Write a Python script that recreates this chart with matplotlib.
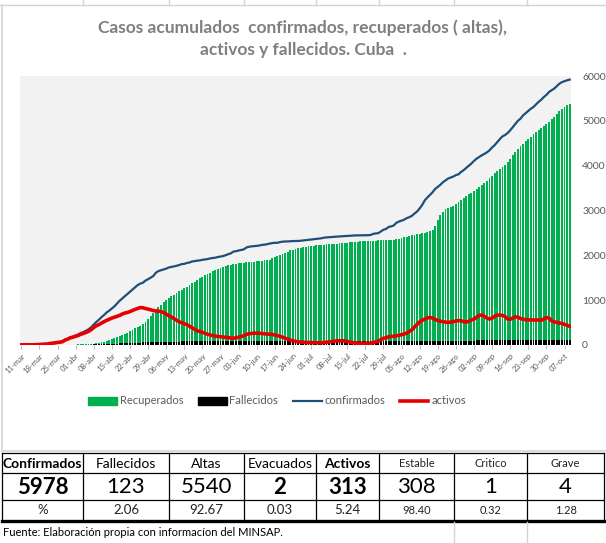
import numpy as np
import pandas as pd
import matplotlib
matplotlib.use("Agg")
import matplotlib.pyplot as plt
from matplotlib.lines import Line2D
from matplotlib.patches import Patch

plt.rcParams['font.family'] = ['Lato', 'DejaVu Sans']

# acumulados diarios, 11-mar a 09-oct
conf_mar = [3, 4, 4, 4, 4, 5, 7, 11, 16, 21, 21, 35, 40, 48, 57, 67, 80, 119, 139, 170, 186]
conf_abr = [212, 233, 269, 288, 320, 350, 396, 457, 515, 564, 620, 669, 726, 766, 814, 862, 923, 986,
            1035, 1087, 1137, 1189, 1235, 1285, 1337, 1369, 1389, 1437, 1467, 1501]
conf_may = [1537, 1611, 1649, 1668, 1685, 1703, 1729, 1741, 1754, 1766, 1783, 1804, 1810, 1830, 1840,
            1862, 1872, 1881, 1887, 1900, 1908, 1916, 1931, 1941, 1947, 1963, 1974, 1983, 2005, 2025, 2045]
conf_jun = [2083, 2092, 2107, 2119, 2133, 2173, 2191, 2200, 2205, 2211, 2219, 2233, 2238, 2248, 2262,
            2273, 2280, 2280, 2295, 2305, 2309, 2310, 2315, 2318, 2319, 2321, 2325, 2332, 2340, 2348]
conf_jul = [2353, 2361, 2369, 2372, 2380, 2395, 2399, 2403, 2406, 2413, 2418, 2420, 2426, 2428, 2432,
            2436, 2440, 2444, 2445, 2446, 2446, 2446, 2449, 2453, 2478, 2488, 2495, 2532, 2572, 2588, 2633]
conf_ago = [2646, 2667, 2726, 2754, 2775, 2795, 2829, 2851, 2882, 2932, 2978, 3046, 3127, 3229, 3292,
            3348, 3408, 3482, 3526, 3574, 3631, 3673, 3713, 3734, 3757, 3790, 3806, 3860, 3900, 3951, 4000]
conf_sep = [4048, 4107, 4156, 4194, 4231, 4262, 4297, 4343, 4405, 4459, 4527, 4593, 4653, 4684, 4727,
            4788, 4859, 4931, 5002, 5049, 5123, 5173, 5222, 5271, 5310, 5367, 5425, 5470, 5531, 5579]
conf_oct = [5643, 5683, 5718, 5773, 5828, 5862, 5885, 5904, 5920]

rec_mar = [0, 0, 0, 0, 0, 0, 0, 0, 0, 0, 0, 0, 1, 1, 1, 1, 2, 3, 4, 4, 6]
rec_abr = [8, 12, 15, 15, 15, 17, 18, 27, 35, 42, 62, 77, 92, 121, 132, 163, 183, 210, 227, 255,
           276, 303, 335, 369, 398, 432, 464, 524, 590, 642]
rec_may = [711, 776, 852, 894, 963, 1002, 1048, 1090, 1124, 1165, 1195, 1230, 1262, 1301, 1340, 1381,
           1415, 1445, 1490, 1525, 1560, 1590, 1615, 1640, 1665, 1690, 1712, 1735, 1755, 1775, 1790]
rec_jun = [1800, 1810, 1818, 1825, 1836, 1845, 1850, 1855, 1860, 1868, 1875, 1882, 1888, 1893, 1900,
           1935, 1965, 1990, 2004, 2030, 2060, 2085, 2108, 2125, 2140, 2153, 2165, 2180, 2195, 2205]
rec_jul = [2210, 2215, 2220, 2227, 2232, 2238, 2242, 2246, 2252, 2258, 2262, 2265, 2270, 2276, 2282,
           2290, 2296, 2300, 2305, 2310, 2315, 2316, 2318, 2320, 2325, 2330, 2335, 2338, 2340, 2342, 2344]
rec_ago = [2346, 2350, 2360, 2372, 2385, 2400, 2420, 2440, 2452, 2460, 2468, 2478, 2487, 2500, 2520,
           2545, 2570, 2650, 2780, 2890, 2960, 3030, 3060, 3085, 3110, 3150, 3190, 3235, 3280, 3320, 3365]
rec_sep = [3400, 3440, 3480, 3520, 3563, 3610, 3660, 3720, 3780, 3830, 3880, 3920, 3960, 4009, 4080,
           4150, 4230, 4300, 4380, 4430, 4480, 4540, 4600, 4650, 4700, 4740, 4790, 4840, 4880, 4920]
rec_oct = [4980, 5040, 5085, 5150, 5210, 5260, 5300, 5345, 5385]

fall_mar = [0, 0, 0, 0, 0, 0, 0, 1, 1, 1, 1, 1, 1, 1, 2, 2, 2, 3, 3, 4, 6]
fall_abr = [6, 6, 6, 6, 8, 9, 11, 12, 15, 15, 16, 18, 21, 21, 24, 27, 32, 34, 36, 36,
            38, 40, 43, 49, 51, 54, 56, 58, 61, 64]
fall_may = [64, 64, 66, 67, 67, 69, 72, 73, 74, 77, 77, 79, 79, 79, 79, 79, 79, 79, 79, 79,
            79, 79, 80, 81, 81, 81, 82, 82, 82, 82, 83]
fall_jun = [83, 84, 84, 84, 84, 84, 84, 84, 85, 85, 85, 85, 85, 85, 85, 85, 85, 85, 85, 85,
            85, 85, 86, 86, 86, 86, 86, 86, 86, 86]
fall_jul = [86, 86, 86, 86, 86, 86, 86, 86, 86, 86, 86, 86, 86, 86, 87, 87, 87, 87, 87, 87,
            87, 87, 87, 87, 87, 87, 87, 87, 87, 87, 87]
fall_ago = [87, 87, 87, 87, 87, 87, 87, 87, 87, 87, 87, 87, 87, 88, 88, 88, 89, 89, 89, 90,
            90, 90, 92, 92, 92, 94, 94, 95, 96, 97, 98]
fall_sep = [99, 100, 101, 102, 103, 104, 105, 106, 107, 108, 109, 110, 110, 111, 111, 112, 113, 114,
            115, 116, 116, 117, 117, 118, 118, 118, 119, 119, 120, 120]
fall_oct = [120, 121, 121, 121, 121, 121, 122, 122, 122]

act_mar = [3, 4, 4, 4, 4, 5, 7, 10, 15, 20, 20, 34, 39, 47, 55, 64, 75, 113, 132, 162, 174]
act_abr = [196, 212, 240, 258, 280, 305, 340, 390, 430, 455, 490, 520, 550, 575, 600, 620, 640, 660,
           690, 712, 725, 745, 770, 795, 815, 835, 830, 815, 800, 785]
act_may = [770, 760, 755, 745, 720, 690, 655, 625, 590, 555, 520, 495, 475, 455, 420, 385, 350, 320,
           300, 285, 262, 240, 225, 210, 200, 190, 185, 178, 172, 165, 158]
act_jun = [150, 160, 175, 190, 205, 235, 250, 258, 262, 265, 262, 255, 250, 245, 240, 232, 225, 210,
           195, 175, 150, 130, 110, 95, 80, 72, 65, 60, 58, 55]
act_jul = [55, 52, 50, 48, 50, 55, 62, 70, 78, 85, 92, 95, 95, 90, 80, 65, 55, 48, 42, 40,
           38, 37, 37, 38, 55, 70, 85, 120, 150, 160, 185]
act_ago = [190, 195, 205, 215, 230, 245, 265, 300, 340, 400, 460, 515, 550, 580, 605, 615, 600, 570,
           545, 530, 520, 510, 505, 510, 520, 535, 545, 540, 520, 510, 530]
act_sep = [557, 580, 620, 660, 668, 640, 600, 580, 600, 640, 665, 668, 660, 635, 580, 572, 600, 630,
           620, 590, 572, 565, 560, 560, 558, 555, 560, 550, 580, 612]
act_oct = [600, 540, 515, 505, 490, 480, 460, 440, 415]

confirmados = conf_mar + conf_abr + conf_may + conf_jun + conf_jul + conf_ago + conf_sep + conf_oct
recuperados = rec_mar + rec_abr + rec_may + rec_jun + rec_jul + rec_ago + rec_sep + rec_oct
fallecidos = fall_mar + fall_abr + fall_may + fall_jun + fall_jul + fall_ago + fall_sep + fall_oct
activos = act_mar + act_abr + act_may + act_jun + act_jul + act_ago + act_sep + act_oct

fechas = pd.date_range("2020-03-11", periods=len(confirmados), freq="D")
meses = ["ene", "feb", "mar", "abr", "may", "jun", "jul", "ago", "sep", "oct", "nov", "dic"]

# tabla resumen
tabla_cab = ["Confirmados", "Fallecidos", "Altas", "Evacuados", "Activos", "Estable", "Critico", "Grave"]
tabla_val = ["5978", "123", "5540", "2", "313", "308", "1", "4"]
tabla_pct = ["%", "2.06", "92.67", "0.03", "5.24", "98.40", "0.32", "1.28"]
negrita_cab = [True, False, False, False, True, False, False, False]
negrita_val = [True, False, False, True, True, False, False, False]

W, H = 606, 543
fig = plt.figure(figsize=(W / 100, H / 100), dpi=100)


def fx(px):
    return px / W


def fy(py):
    return 1 - py / H


x = np.arange(len(confirmados))

ax = fig.add_axes([fx(20), fy(345), fx(551), 269 / H])
ax.set_facecolor("#f2f2f2")
ax.bar(x, recuperados, width=0.72, color="#00b050", linewidth=0)
ax.bar(x, fallecidos, width=0.72, color="black", linewidth=0)
ax.plot(x, confirmados, color="#1f4e79", lw=1.6)
ax.plot(x, activos, color="#e60000", lw=2.6)

ax.set_xlim(-0.5, len(x) - 0.5)
ax.set_ylim(0, 6000)
for s in ax.spines.values():
    s.set_visible(False)

ax.yaxis.tick_right()
ax.set_yticks(range(0, 6001, 1000))
ax.tick_params(axis="y", length=0, pad=8, labelsize=7.5, labelcolor="#595959")

tick_pos = x[::7]
ax.set_xticks(tick_pos)
ax.set_xticklabels([f"{fechas[i].day:02d}-{meses[fechas[i].month - 1]}" for i in tick_pos],
                   rotation=45, ha="right", va="top", rotation_mode="anchor")
ax.tick_params(axis="x", length=3, color="#bfbfbf", pad=2, labelsize=5.5, labelcolor="#595959")

# titulo
fig.text(fx(303), fy(28), "Casos acumulados  confirmados, recuperados ( altas),",
         ha="center", va="center", fontsize=12.5, fontweight="bold", color="#7f7f7f")
fig.text(fx(303), fy(50), "activos y fallecidos. Cuba  .",
         ha="center", va="center", fontsize=12.5, fontweight="bold", color="#7f7f7f")

# leyenda
handles = [Patch(color="#00b050"), Patch(color="black"),
           Line2D([], [], color="#1f4e79", lw=1.6), Line2D([], [], color="#e60000", lw=2.6)]
leg = fig.legend(handles, ["Recuperados", "Fallecidos", "confirmados", "activos"],
                 loc="center", bbox_to_anchor=(fx(277), fy(401)), ncol=4, frameon=False,
                 fontsize=8, handlelength=2.6, handletextpad=0.25, columnspacing=1.3)
for t in leg.get_texts():
    t.set_color("#595959")

# bordes de la hoja / grafico
gris = "#d4d4d4"
col_x = [2, 83, 169, 244, 316, 379, 454, 527, 604]
fig.add_artist(Line2D([0, 1], [fy(4.5), fy(4.5)], color=gris, lw=1))
for cx in col_x[1:-1]:
    fig.add_artist(Line2D([fx(cx), fx(cx)], [fy(0), fy(4.5)], color=gris, lw=1))
fig.add_artist(Line2D([fx(2), fx(2)], [fy(5), fy(451)], color=gris, lw=1.2))
fig.add_artist(Line2D([fx(2), fx(606)], [fy(451), fy(451)], color=gris, lw=1.2))

# tabla
for yy in [453, 473, 500]:
    fig.add_artist(Line2D([fx(2), fx(604)], [fy(yy), fy(yy)], color="black", lw=0.9))
fig.add_artist(Line2D([fx(2), fx(604)], [fy(520.5), fy(520.5)], color="black", lw=2.4))
for cx in col_x:
    fig.add_artist(Line2D([fx(cx), fx(cx)], [fy(453), fy(520)], color="black", lw=0.9))
for cx in col_x[6:8]:
    fig.add_artist(Line2D([fx(cx), fx(cx)], [fy(522), fy(543)], color=gris, lw=1))

for i in range(len(tabla_cab)):
    cx = (col_x[i] + col_x[i + 1]) / 2
    small = i >= 5
    fig.text(fx(cx), fy(463.5), tabla_cab[i], ha="center", va="center",
             fontsize=8 if small else 10, fontweight="bold" if negrita_cab[i] else "normal",
             color="black" if i < 5 else "#222222")
    fig.text(fx(cx), fy(487), tabla_val[i], ha="center", va="center", fontsize=16,
             fontweight="bold" if negrita_val[i] else "normal", color="black")
    fig.text(fx(cx), fy(510.5), tabla_pct[i], ha="center", va="center",
             fontsize=8 if small else 9.5, color="#222222")

fig.text(fx(3), fy(532), "Fuente: Elaboración propia con informacíon del MINSAP.",
         ha="left", va="center", fontsize=8, color="black")

fig.savefig("out.png", dpi=100)
